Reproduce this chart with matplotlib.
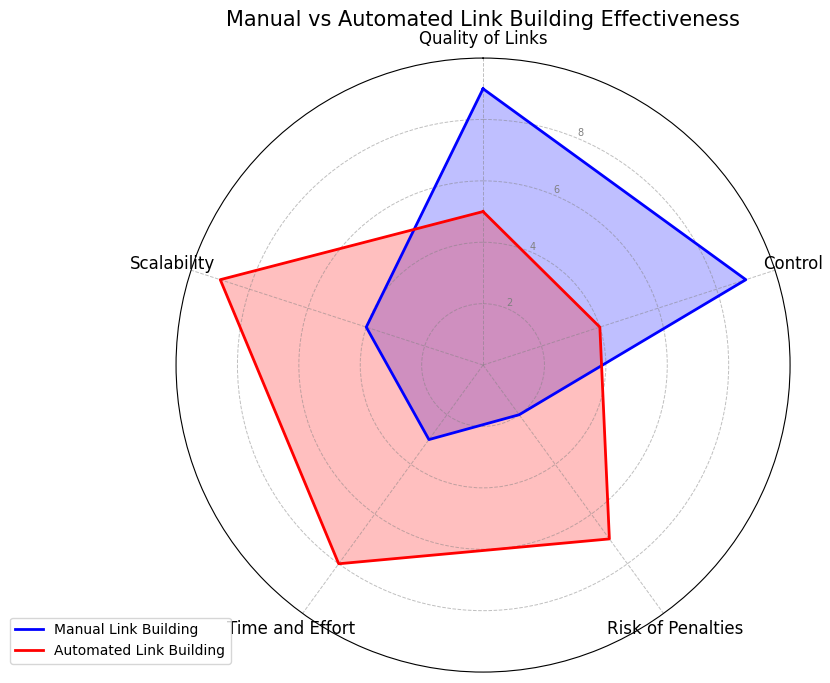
import numpy as np
import matplotlib
matplotlib.use("Agg")
import matplotlib.pyplot as plt

categories = ["Quality of Links", "Control", "Risk of Penalties", "Time and Effort", "Scalability"]
manual = [9, 9, 2, 3, 4]
automated = [5, 4, 7, 8, 9]
rticks = [2, 4, 6, 8]

n = len(categories)
angles = np.linspace(0, 2 * np.pi, n, endpoint=False).tolist()
angles_c = angles + angles[:1]
manual_c = manual + manual[:1]
auto_c = automated + automated[:1]

fig = plt.figure(figsize=(8.3, 6.83), dpi=100)
ax = fig.add_axes([0.212, 0.016, 0.74, 0.899], polar=True)
ax.set_theta_offset(np.pi / 2)
ax.set_theta_direction(-1)

ax.plot(angles_c, manual_c, color="blue", linewidth=2, label="Manual Link Building")
ax.fill(angles_c, manual_c, color="blue", alpha=0.25)
ax.plot(angles_c, auto_c, color="red", linewidth=2, label="Automated Link Building")
ax.fill(angles_c, auto_c, color="red", alpha=0.25)

ax.set_ylim(0, 10)
ax.set_yticks(rticks)
ax.set_yticklabels([str(t) for t in rticks], fontsize=7, color="grey")
ax.set_xticks(angles)
ax.set_xticklabels(categories, fontsize=12)
ax.grid(color="grey", linestyle="--", linewidth=0.7, alpha=0.5)

fig.text(0.582, 0.971, "Manual vs Automated Link Building Effectiveness",
         fontsize=15, ha="center", va="center")
fig.legend(loc="lower left", bbox_to_anchor=(0.0035, 0.018), fontsize=10)

fig.savefig("out.png", dpi=100)
